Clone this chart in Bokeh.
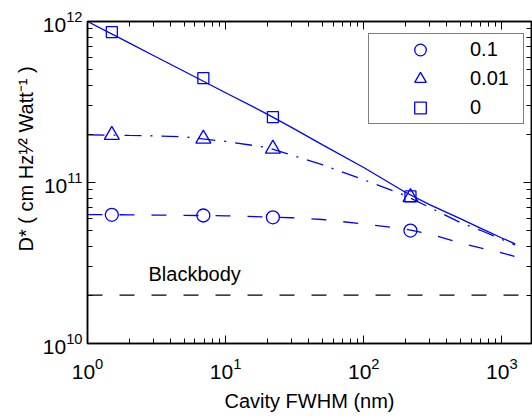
from bokeh.plotting import figure
from bokeh.models import (LogAxis, FixedTicker, LogTickFormatter, Legend, LegendItem,
                          Label, Span, Range1d, CustomJSTickFormatter, Title)
from bokeh.embed import file_html
from bokeh.resources import INLINE

FONT = "Liberation Sans"
BLUE = "#0000ff"

# ---- data -------------------------------------------------------------
series_labels = ["0.1", "0.01", "0"]

x_curve = [1, 2, 3, 5, 10, 20, 30, 50, 100, 200, 300, 500, 700, 1000, 1250]
curve_01 = [6.32e10, 6.30e10, 6.28e10, 6.25e10, 6.21e10, 6.11e10, 6.04e10, 5.89e10,
            5.53e10, 5.14e10, 4.79e10, 4.22e10, 3.92e10, 3.66e10, 3.47e10]
curve_001 = [1.98e11, 1.96e11, 1.95e11, 1.92e11, 1.80e11, 1.65e11, 1.48e11, 1.29e11,
             1.04e11, 8.3e10, 7.0e10, 5.65e10, 5.05e10, 4.43e10, 4.09e10]
curve_0 = [1.00e12, 7.36e11, 6.15e11, 4.91e11, 3.61e11, 2.66e11, 2.20e11, 1.72e11,
           1.24e11, 8.7e10, 7.29e10, 5.96e10, 5.21e10, 4.52e10, 4.16e10]

x_mark = [1.5, 6.9, 22, 218]
mark_01 = [6.30e10, 6.24e10, 6.08e10, 5.03e10]
mark_001 = [1.97e11, 1.87e11, 1.62e11, 8.1e10]
mark_0 = [8.6e11, 4.45e11, 2.55e11, 8.2e10]

blackbody = 2e10

x_major = [1, 10, 100, 1000]
x_minor = [k * 10 ** e for e in range(0, 4) for k in range(2, 10)]
y_major = [1e10, 1e11, 1e12]
y_minor = [k * 10.0 ** e for e in range(10, 12) for k in range(2, 10)]

x_title = "Cavity FWHM (nm)"
y_title = "D* ( cm Hz\u00b9\u2044\u00b2 Watt\u207b\u00b9 )"

# ---- figure -----------------------------------------------------------
p = figure(width=532, height=420, x_axis_type="log", y_axis_type="log",
           x_range=Range1d(1, 1640), y_range=Range1d(1e10, 1e12),
           output_backend="svg", toolbar_location=None, title=None,
           min_border_left=87, min_border_right=1, min_border_top=21,
           min_border_bottom=77)
p.xgrid.visible = False
p.ygrid.visible = False
p.outline_line_color = "black"
p.outline_line_width = 1.5
p.background_fill_color = "white"
p.border_fill_color = "white"


def style_axis(ax, ticks, minor, labels=True):
    ax.ticker = FixedTicker(ticks=ticks, minor_ticks=minor)
    ax.axis_line_color = "black"
    ax.axis_line_width = 1.5
    ax.major_tick_line_color = "black"
    ax.minor_tick_line_color = "black"
    ax.major_tick_line_width = 1
    ax.minor_tick_line_width = 1
    ax.major_tick_in = 8
    ax.major_tick_out = 0
    ax.minor_tick_in = 5
    ax.minor_tick_out = 0
    if labels:
        ax.formatter = LogTickFormatter()
        ax.major_label_text_font = FONT
        ax.major_label_text_font_size = "21px"
        ax.major_label_text_color = "black"
    else:
        ax.formatter = CustomJSTickFormatter(code="return ''")
        ax.major_label_text_font_size = "1px"
        ax.major_label_standoff = 0


style_axis(p.xaxis[0], x_major, x_minor)
style_axis(p.yaxis[0], y_major, y_minor)
p.xaxis.major_label_standoff = 14
p.yaxis.major_label_standoff = 5
p.xaxis.axis_label = x_title
p.xaxis.axis_label_text_font = FONT
p.xaxis.axis_label_text_font_size = "20px"
p.xaxis.axis_label_text_font_style = "normal"
p.xaxis.axis_label_text_color = "black"
p.xaxis.axis_label_standoff = 8

top_ax = LogAxis()
style_axis(top_ax, x_major, x_minor, labels=False)
p.add_layout(top_ax, "above")
right_ax = LogAxis()
style_axis(right_ax, y_major, y_minor, labels=False)
p.add_layout(right_ax, "right")

# y-axis title (placed as a side title so its start can be positioned)
p.add_layout(Title(text=y_title, align="left", offset=92, vertical_align="bottom",
                   standoff=6, text_font=FONT, text_font_size="20px",
                   text_font_style="normal", text_color="black"), "left")

# ---- curves and markers ---------------------------------------------
p.line(x_curve, curve_01, line_color=BLUE, line_width=1.3, line_dash="15 17")
p.line(x_curve, curve_001, line_color=BLUE, line_width=1.3, line_dash="17 9 2 9")
p.line(x_curve, curve_0, line_color=BLUE, line_width=1.3)

r_c = p.scatter(x_mark, mark_01, marker="circle", size=13, line_color=BLUE,
                fill_color=None, line_width=1.3)
r_t = p.scatter(x_mark, mark_001, marker="triangle", size=15, line_color=BLUE,
                fill_color=None, line_width=1.3)
r_s = p.scatter(x_mark, mark_0, marker="square", size=11, line_color=BLUE,
                fill_color=None, line_width=1.3)

p.add_layout(Span(location=blackbody, dimension="width", line_color="black",
                  line_width=1.3, line_dash="15 17"))
p.add_layout(Label(x=61, y=70, x_units="screen", y_units="screen", text="Blackbody",
                   text_font=FONT, text_font_size="20px", text_color="black",
                   text_baseline="alphabetic", text_align="left"))

# ---- legend -----------------------------------------------------------
legend = Legend(items=[LegendItem(label=series_labels[0], renderers=[r_c]),
                       LegendItem(label=series_labels[1], renderers=[r_t]),
                       LegendItem(label=series_labels[2], renderers=[r_s])],
                location=(281, 219), padding=1, glyph_width=100, glyph_height=29,
                label_standoff=0, label_width=52, spacing=0, margin=0,
                label_text_font=FONT, label_text_font_size="20px",
                label_text_color="black", border_line_color="black",
                border_line_width=1.5, background_fill_color="white",
                background_fill_alpha=1.0)
p.add_layout(legend)

open("out.html", "w").write(file_html(p, INLINE))
